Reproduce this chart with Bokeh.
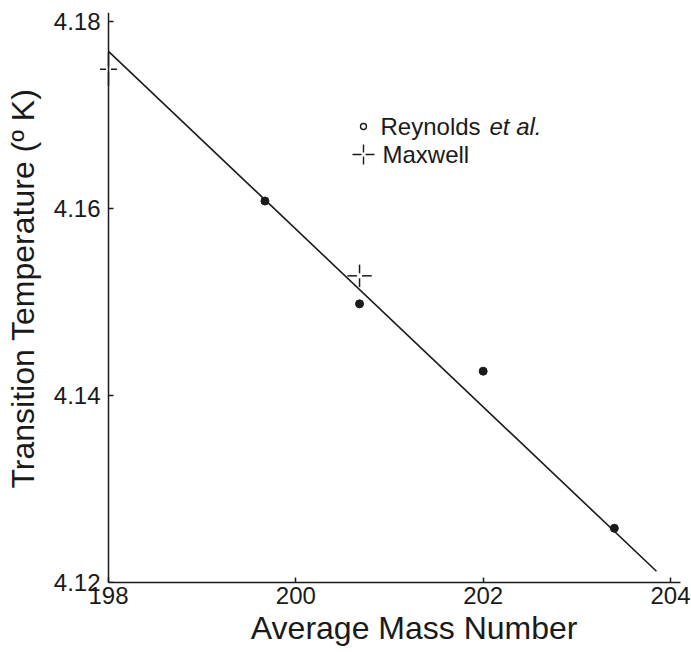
from bokeh.plotting import figure
from bokeh.embed import file_html
from bokeh.resources import INLINE
from bokeh.core.properties import value
from bokeh.models import FixedTicker, LinearAxis

# ---- data ----
reynolds_mass = [199.67, 200.68, 202.0, 203.4]
reynolds_tc = [4.1608, 4.1498, 4.1426, 4.1258]

maxwell_mass = [198.0, 200.68]
maxwell_tc = [4.1749, 4.1528]
maxwell_xerr = [0.09, 0.13]
maxwell_yerr = [0.0018, 0.0012]

fit_mass = [198.0, 203.85]
fit_tc = [4.1768, 4.1212]

x_ticks = [198, 200, 202, 204]
y_ticks = [4.12, 4.14, 4.16, 4.18]

NB = "\u00a0"
x_title = NB * 6 + "Average Mass Number"
y_title = NB * 2 + "Transition Temperature (\u00ba K)"

FONT = "Liberation Sans"
INK = "#1a1a1a"

# ---- layout ----
W, H = 691, 652
L, R, T, B = 94, 11, 12, 70
PPU = 93.67                     # px per mass unit
X0 = 198.0 - 14 / PPU           # a little room left of the y axis for the Maxwell bar
X1 = X0 + (W - L - R) / PPU
Y0 = 4.12
Y1 = 4.18 + 9 / ((H - B - T - 9) / 0.06)

p = figure(width=W, height=H, x_range=(X0, X1), y_range=(Y0, Y1),
           output_backend="svg", toolbar_location=None,
           min_border_left=L, min_border_right=R, min_border_top=T, min_border_bottom=B)
p.outline_line_color = None
p.xgrid.visible = False
p.ygrid.visible = False
p.background_fill_color = "white"
p.border_fill_color = "white"

fw = W - L - R
fh = H - T - B
def px_x(px):
    return X0 + (px - L) / fw * (X1 - X0)
def px_y(py):
    return Y1 - (py - T) / fh * (Y1 - Y0)
ux = (X1 - X0) / fw   # data per px
uy = (Y1 - Y0) / fh

def style(ax):
    ax.axis_line_color = INK
    ax.axis_line_width = 1.5
    ax.major_tick_line_color = INK
    ax.major_tick_line_width = 1.5
    ax.major_tick_in = 5
    ax.major_tick_out = 0
    ax.minor_tick_line_color = None
    ax.major_label_text_font = FONT
    ax.major_label_text_font_size = "24px"
    ax.major_label_text_color = INK
    ax.axis_label_text_font = FONT
    ax.axis_label_text_font_style = "normal"
    ax.axis_label_text_font_size = "32px"
    ax.axis_label_text_color = INK

# x axis
xa = p.xaxis[0]
style(xa)
xa.ticker = FixedTicker(ticks=x_ticks)
xa.major_label_overrides = {t: str(t) for t in x_ticks}
xa.major_label_standoff = 4
xa.bounds = (x_ticks[0], X1)
xa.axis_label = x_title
xa.axis_label_standoff = 3

# y axis: labels + title in the left panel
ya = p.yaxis[0]
style(ya)
ya.ticker = FixedTicker(ticks=y_ticks)
ya.major_label_overrides = {t: f"{t:.2f}" for t in y_ticks}
ya.axis_line_color = None
ya.major_tick_line_color = None
ya.major_label_standoff = -6
ya.axis_label = y_title
ya.axis_label_standoff = 10

# y axis line + inward ticks sitting at mass 198
ya2 = LinearAxis(ticker=FixedTicker(ticks=y_ticks), fixed_location=x_ticks[0])
style(ya2)
ya2.major_label_text_font_size = "0px"
ya2.major_label_text_color = None
ya2.major_label_standoff = 0
p.add_layout(ya2, "left")

# fit line
p.line(fit_mass, fit_tc, line_color=INK, line_width=1.6)

# Reynolds points
p.scatter(reynolds_mass, reynolds_tc, marker="circle", size=8, fill_color=INK, line_color=INK)

# Maxwell crosses (error bars with a small gap at the centre)
gx, gy = 2.5 * ux, 2.5 * uy
xs0, ys0, xs1, ys1 = [], [], [], []
for m, t, ex, ey in zip(maxwell_mass, maxwell_tc, maxwell_xerr, maxwell_yerr):
    xs0 += [m - ex, m + gx, m, m]
    xs1 += [m - gx, m + ex, m, m]
    ys0 += [t, t, t - ey, t + gy]
    ys1 += [t, t, t - gy, t + ey]
p.segment(x0=xs0, y0=ys0, x1=xs1, y1=ys1, line_color=INK, line_width=1.5)

# legend (drawn by hand)
lx = px_x(363)
ly1 = px_y(126)
ly2 = px_y(154)
p.scatter([lx], [ly1], marker="circle", size=6, fill_color="white", line_color=INK, line_width=1.4)
p.segment(x0=[lx - 11 * ux, lx + 2 * ux], y0=[ly2, ly2], x1=[lx - 2 * ux, lx + 11 * ux], y1=[ly2, ly2],
          line_color=INK, line_width=1.4)
p.segment(x0=[lx, lx], y0=[ly2 - 10 * uy, ly2 + 2 * uy], x1=[lx, lx], y1=[ly2 - 2 * uy, ly2 + 10 * uy],
          line_color=INK, line_width=1.4)

p.text([px_x(380)], [ly1], text=["Reynolds "], text_font=value(FONT), text_font_size="24px",
       text_baseline="middle", text_align="left", text_color=INK)
p.text([px_x(380 + 109)], [ly1], text=["et al."], text_font=value(FONT), text_font_size="24px",
       text_font_style="italic", text_baseline="middle", text_align="left", text_color=INK)
p.text([px_x(382)], [ly2], text=["Maxwell"], text_font=value(FONT), text_font_size="24px",
       text_baseline="middle", text_align="left", text_color=INK)

open("out.html", "w").write(file_html(p, INLINE))
